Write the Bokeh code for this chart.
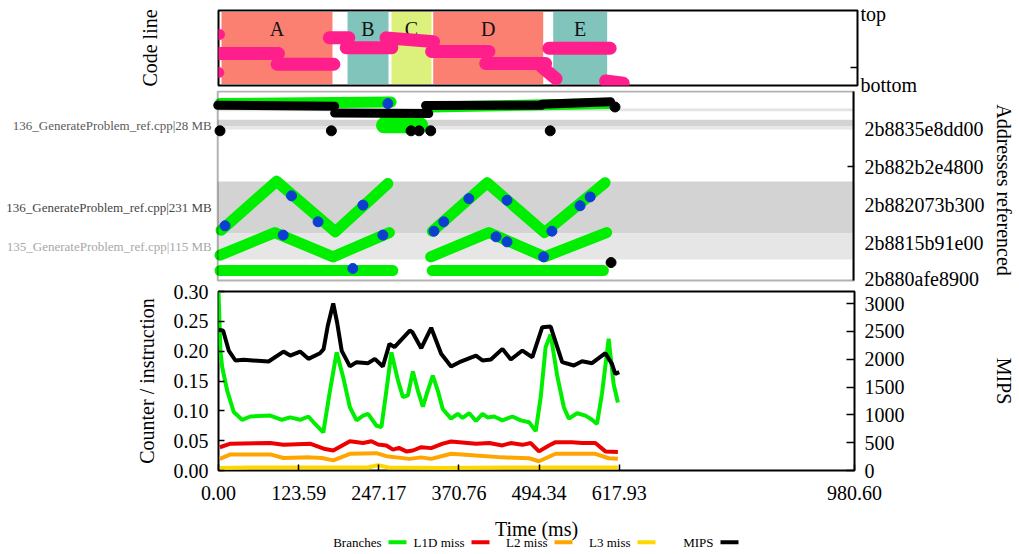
from bokeh.plotting import figure
from bokeh.models import (Range1d, LinearAxis, FixedTicker, NumeralTickFormatter,
                          BoxAnnotation)
from bokeh.layouts import column
from bokeh.core.properties import value
from bokeh.embed import file_html
from bokeh.resources import INLINE

# ====================== DATA ======================
# --- top panel: code sections (time in ms) ---
section_names = ["A", "B", "C", "D", "E"]
section_start = [4.6, 198.0, 265.5, 329.5, 513.6]
section_end = [174.9, 260.9, 326.9, 498.3, 596.5]
section_colors = ["#fb8072", "#80c4bc", "#dcf07c", "#fb8072", "#80c4bc"]

# code line trace (relative line position: 0 = bottom, 100 = top)
code_t0 = [0.0, 90.0, 170.0, 196.0, 257.0, 327.0, 410.0, 496.0, 507.0, 594.0]
code_t1 = [92.0, 177.0, 200.0, 266.0, 330.0, 415.0, 502.0, 518.0, 601.0, 621.0]
code_y0 = [42.7, 28.3, 63.7, 50.4, 63.5, 45.3, 29.3, 25.0, 49.7, 6.0]
code_y1 = [42.7, 28.3, 63.7, 50.4, 58.5, 45.3, 29.3, 9.0, 49.7, 3.0]
code_dot_t = [1.5, 0.5]
code_dot_y = [68.0, 17.3]
code_ticks = [95, 0]
code_tick_labels = ["top", "bottom"]

# --- middle panel: address bands (MB above 0x2b880afe8900) ---
band_bottom = [802, 731, 715, 222.6, 99.5]
band_top = [815, 761, 731, 469.0, 222.6]
band_colors = ["#e3e3e3", "#d3d3d3", "#e6e6e6", "#d3d3d3", "#e6e6e6"]
band_names = ["136_GenerateProblem_ref.cpp|28 MB",
              "136_GenerateProblem_ref.cpp|231 MB",
              "135_GenerateProblem_ref.cpp|115 MB"]
band_name_y = [734, 346, 161]
band_name_colors = ["#5a5a5a", "#444444", "#a8a8a8"]

addr_ticks = [0, 180, 360, 540, 720]
addr_tick_labels = ["2b880afe8900", "2b8815b91e00", "2b882073b300",
                    "2b882b2e4800", "2b8835e8dd00"]

# green access traces (polylines)
green_t = [[5.1, 90.5, 181.1, 262.0], [330.4, 414.8, 503.4, 596.5],
           [3.5, 87.9, 177.6, 264.4], [327.9, 417.4, 503.4, 598.9],
           [3.5, 269.6], [330.4, 593.9], [3.5, 267.0], [330.0, 604.0]]
green_a = [[238, 470, 231, 459], [233, 463, 227, 463],
           [120, 227, 112, 227], [112, 227, 112, 227],
           [47, 47], [47, 47], [838, 845], [822, 838]]
green_blob_t = [[256.0, 312.0], [262.0, 300.0]]
green_blob_a = [[735, 735], [770, 775]]

black_t = [[0.0, 180.0], [180.0, 325.0], [320.0, 499.0], [499.0, 605.0]]
black_a = [[830, 826], [793, 791], [829, 830], [835, 847]]
black_dot_t = [3.5, 175.0, 297.7, 310.0, 328.0, 512.0, 611.8, 605.7]
black_dot_a = [709, 709, 709, 709, 709, 709, 822, 85]

blue_t = [223.6, 113.6, 154.5, 11.2, 100.8, 254.3, 262.0, 208.0, 333.0, 348.0,
          386.7, 445.5, 558.0, 573.5, 514.6, 428.6, 445.5, 501.8]
blue_a = [357, 401, 278, 259, 215, 215, 838, 57, 233.5, 278,
          388, 380, 354, 396, 233.5, 207, 183, 112]

# --- bottom panel: counters per instruction and MIPS ---
t_branch = [0.0, 3.0, 5.7, 13.4, 23.5, 36.4, 49.1, 79.8, 97.8, 110.5, 125.8, 138.6,
            148.9, 161.6, 171.9, 182.2, 192.3, 202.6, 212.9, 223.0, 230.7, 243.5,
            251.2, 258.9, 266.6, 276.7, 284.4, 292.0, 299.7, 307.4, 315.1, 322.7,
            330.4, 338.1, 345.7, 358.6, 368.8, 376.4, 386.7, 397.0, 407.1, 414.8,
            425.1, 437.8, 453.2, 466.0, 478.8, 489.1, 496.8, 504.4, 512.1, 522.2,
            532.5, 540.2, 552.9, 565.8, 575.9, 583.6, 591.3, 601.6, 609.2, 615.8]
branches = [0.300, 0.200, 0.173, 0.134, 0.098, 0.085, 0.0905, 0.092, 0.085, 0.089,
            0.085, 0.0905, 0.078, 0.064, 0.134, 0.198, 0.156, 0.106, 0.084, 0.092,
            0.095, 0.075, 0.073, 0.134, 0.198, 0.151, 0.123, 0.126, 0.166, 0.134,
            0.107, 0.134, 0.159, 0.134, 0.103, 0.087, 0.095, 0.088, 0.096, 0.083,
            0.095, 0.089, 0.0905, 0.084, 0.0905, 0.084, 0.081, 0.066, 0.123, 0.207,
            0.228, 0.159, 0.106, 0.087, 0.096, 0.092, 0.085, 0.078, 0.129, 0.221,
            0.145, 0.114]

t_l1d = [2.0, 18.4, 79.8, 100.2, 141.2, 164.2, 176.9, 202.6, 223.0, 235.9, 246.0,
         258.9, 269.0, 278.2, 289.6, 299.7, 312.6, 327.9, 345.7, 358.6, 397.0,
         417.4, 437.8, 450.7, 468.5, 481.4, 494.1, 509.5, 519.8, 545.2, 560.6,
         581.1, 596.5, 615.8]
l1d_miss = [0.039, 0.045, 0.046, 0.043, 0.045, 0.036, 0.0335, 0.049, 0.046, 0.049,
            0.0435, 0.042, 0.035, 0.038, 0.032, 0.0335, 0.039, 0.0375, 0.045,
            0.0485, 0.045, 0.046, 0.042, 0.046, 0.043, 0.046, 0.032, 0.042,
            0.0475, 0.0475, 0.046, 0.046, 0.032, 0.031]

t_l2 = [2.0, 18.4, 79.8, 100.2, 141.2, 159.6, 176.9, 202.6, 243.5, 258.9, 274.1,
        294.6, 312.6, 327.9, 358.6, 397.0, 437.8, 478.8, 494.1, 519.8, 581.1,
        601.6, 615.8]
l2_miss = [0.0195, 0.027, 0.027, 0.021, 0.022, 0.021, 0.017, 0.028, 0.029, 0.024,
           0.022, 0.0195, 0.022, 0.0195, 0.028, 0.025, 0.022, 0.0205, 0.0155,
           0.028, 0.028, 0.0205, 0.0195]

t_l3 = [2.0, 50.0, 150.0, 230.0, 246.0, 262.0, 350.0, 450.0, 550.0, 615.8]
l3_miss = [0.004, 0.005, 0.005, 0.005, 0.009, 0.005, 0.004, 0.005, 0.005, 0.005]

t_mips = [0.0, 7.2, 15.8, 26.1, 38.8, 77.2, 100.2, 110.5, 125.8, 138.6, 156.5,
          162.0, 168.5, 176.9, 183.0, 190.0, 202.6, 212.9, 230.7, 241.0, 253.4,
          263.6, 271.3, 295.0, 299.0, 312.6, 327.9, 343.3, 358.6, 371.4, 397.0,
          407.1, 420.0, 437.8, 450.7, 468.5, 483.9, 499.2, 512.1, 529.9, 547.9,
          560.6, 575.9, 596.5, 606.6, 611.8, 617.9]
mips = [2530, 2510, 2155, 1976, 1988, 1958, 2137, 2065, 2137, 2006, 2107,
        2180, 2600, 3000, 2650, 2150, 1870, 1946, 1928, 2006, 1868,
        2275, 2215, 2514, 2484, 2197, 2563, 2096, 1868, 1946, 2065,
        1976, 1994, 2185, 1994, 2155, 2035, 2574, 2586, 1946, 1886,
        1963, 1928, 2107, 1916, 1737, 1766]

time_ticks = [0.0, 123.59, 247.17, 370.76, 494.34, 617.93, 980.60]
counter_ticks = [0.0, 0.05, 0.10, 0.15, 0.20, 0.25, 0.30]
mips_ticks = [0, 500, 1000, 1500, 2000, 2500, 3000]

legend_names = ["Branches", "L1D miss", "L2 miss", "L3 miss", "MIPS"]
legend_colors = ["#00ee00", "#ee0000", "#ffa500", "#ffd700", "#000000"]

# ====================== LAYOUT ======================
FONT = "Liberation Serif"
T_MAX = 980.60
W = 1017
FL, FR = 218, 857                # frame left/right (px)
PX_MS = T_MAX / (FR - FL)        # ms per horizontal pixel
PINK = "#ff1f8c"
GREEN = "#00ee00"


def style_axis(ax, tick_in=0, standoff=10):
    ax.axis_line_color = None
    ax.major_tick_out = 0
    ax.major_tick_in = tick_in
    ax.major_tick_line_width = 1.5
    ax.major_tick_line_color = "black"
    ax.minor_tick_line_color = None
    ax.major_label_standoff = standoff
    ax.major_label_text_font = FONT
    ax.major_label_text_font_size = "20px"
    ax.major_label_text_color = "black"
    ax.axis_label_text_font = FONT
    ax.axis_label_text_font_size = "20px"
    ax.axis_label_text_font_style = "normal"
    ax.axis_label_text_color = "black"


def base_fig(height, x_range, y_range, top, bottom, left=FL, right=W - FR, shift=0):
    f = figure(width=W, height=height, output_backend="svg", toolbar_location=None,
               x_range=x_range, y_range=y_range,
               x_axis_location=None, y_axis_location=None,
               min_border_left=left, min_border_right=right,
               min_border_top=top, min_border_bottom=bottom,
               frame_align=False, margin=(shift, 0, 0, 0))
    f.grid.visible = False
    f.outline_line_color = None
    f.background_fill_color = None
    f.border_fill_color = None
    return f


time_range = Range1d(0, T_MAX)

# ---------- figure 1: code line (canvas rows 0..95) ----------
p1 = base_fig(95, time_range, Range1d(0, 100), top=10, bottom=10)
p1.outline_line_color = "black"
p1.outline_line_width = 2
p1.outline_line_alpha = 1
p1.quad(left=section_start, right=section_end, bottom=2, top=98,
        fill_color=section_colors, line_color=None)
p1.text(x=[(a + b) / 2 for a, b in zip(section_start, section_end)],
        y=[76] * len(section_names), text=section_names,
        text_align="center", text_baseline="middle",
        text_font=value(FONT), text_font_size=value("20px"), text_color="#111111")
p1.segment(x0=code_t0, y0=code_y0, x1=code_t1, y1=code_y1, line_color=PINK,
           line_width=13, line_cap="round")
p1.scatter(code_dot_t, code_dot_y, size=10, color=PINK)
p1.segment(x0=[T_MAX - 7 * PX_MS], y0=[24], x1=[T_MAX], y1=[24],
           line_color="black", line_width=1.5)
ax1l = LinearAxis(ticker=FixedTicker(ticks=[], minor_ticks=[]), axis_label="Code line")
style_axis(ax1l, 0, 0)
ax1l.axis_label_standoff = 58
ax1r = LinearAxis(ticker=FixedTicker(ticks=code_ticks, minor_ticks=[]),
                  major_label_overrides=dict(zip(code_ticks, code_tick_labels)))
style_axis(ax1r, 0, 3)
p1.add_layout(ax1l, "left")
p1.add_layout(ax1r, "right")

# ---------- figure 2: addresses (canvas rows 90..289, frame from page left) ----------
MB_PX = 180 / 38.0
addr_range = Range1d(-(289 - 280) * MB_PX, 895.3 + (91 - 90) * MB_PX)
p2 = base_fig(199, Range1d(-FL * PX_MS, T_MAX), addr_range, top=0, bottom=0,
              left=0, shift=-5)
p2.quad(left=0, right=T_MAX, bottom=band_bottom, top=band_top,
        fill_color=band_colors, line_color=None)
p2.multi_line(xs=green_t, ys=green_a, line_color=GREEN, line_width=11,
              line_cap="round", line_join="round")
p2.multi_line(xs=green_blob_t, ys=green_blob_a, line_color=GREEN, line_width=16,
              line_cap="round", line_join="round")
p2.scatter(blue_t, blue_a, size=10, color="#0a3fd0")
p2.multi_line(xs=black_t, ys=black_a, line_color="black", line_width=9,
              line_cap="round", line_join="round")
p2.scatter(black_dot_t, black_dot_a, size=10, color="black")
p2.segment(x0=[T_MAX - 7 * PX_MS], y0=[540], x1=[T_MAX], y1=[540],
           line_color="black", line_width=1.5)
p2.text(x=[-6 * PX_MS] * len(band_names), y=band_name_y, text=band_names,
        text_color=band_name_colors, text_align="right", text_baseline="middle",
        text_font=value(FONT), text_font_size=value("13px"))
p2.add_layout(BoxAnnotation(left=0, right=T_MAX, bottom=0, top=895.3,
                            fill_alpha=0, fill_color=None, line_color="black",
                            line_width=2))
p2.segment(x0=[T_MAX], y0=[0], x1=[T_MAX], y1=[895.3], line_color="black",
           line_width=4)
ax2r = LinearAxis(ticker=FixedTicker(ticks=addr_ticks, minor_ticks=[]),
                  major_label_overrides=dict(zip(addr_ticks, addr_tick_labels)),
                  axis_label="Addresses referenced")
style_axis(ax2r, 0, 10)
ax2r.axis_label_standoff = 5
p2.add_layout(ax2r, "right")

# ---------- figure 3: counters (canvas rows 281..546) ----------
p3 = base_fig(265, time_range, Range1d(0, 0.30), top=10, bottom=76, shift=-8)
p3.outline_line_color = "black"
p3.outline_line_width = 2
p3.outline_line_alpha = 1
p3.extra_y_ranges = {"mips": Range1d(0, 3000 * 179 / 167.0)}
p3.line(t_l3, l3_miss, line_color=legend_colors[3], line_width=4)
p3.line(t_l2, l2_miss, line_color=legend_colors[2], line_width=4)
p3.line(t_l1d, l1d_miss, line_color=legend_colors[1], line_width=4)
p3.line(t_branch, branches, line_color=legend_colors[0], line_width=4)
p3.line(t_mips, mips, line_color="black", line_width=4, y_range_name="mips")
ax3b = LinearAxis(ticker=FixedTicker(ticks=time_ticks, minor_ticks=[]),
                  formatter=NumeralTickFormatter(format="0.00"), axis_label="Time (ms)")
style_axis(ax3b, 6, 15)
ax3b.axis_label_standoff = 15
ax3l = LinearAxis(ticker=FixedTicker(ticks=counter_ticks, minor_ticks=[]),
                  formatter=NumeralTickFormatter(format="0.00"),
                  axis_label="Counter / instruction")
style_axis(ax3l, 6, 10)
ax3l.axis_label_standoff = 13
ax3r = LinearAxis(y_range_name="mips",
                  ticker=FixedTicker(ticks=mips_ticks, minor_ticks=[]),
                  formatter=NumeralTickFormatter(format="0"), axis_label="MIPS")
style_axis(ax3r, 8, 10)
ax3r.axis_label_standoff = 85
p3.add_layout(ax3b, "below")
p3.add_layout(ax3l, "left")
p3.add_layout(ax3r, "right")

# ---------- figure 4: legend (canvas rows 534..553, coordinates in page pixels) ----------
p4 = base_fig(19, Range1d(0, W), Range1d(553, 534), top=0, bottom=0, left=0, right=0,
              shift=-12)
leg_right = [381, 464, 547, 630, 713]
p4.text(x=leg_right, y=[542.3] * 5, text=legend_names, text_align="right",
        text_baseline="middle", text_font=value(FONT),
        text_font_size=value("13px"), text_color="black")
p4.segment(x0=[r + 7 for r in leg_right], y0=[541.7] * 5,
           x1=[r + 25 for r in leg_right], y1=[541.7] * 5,
           line_color=legend_colors, line_width=4)

layout = column(p1, p2, p3, p4, spacing=0)
open("out.html", "w").write(file_html(layout, INLINE))
